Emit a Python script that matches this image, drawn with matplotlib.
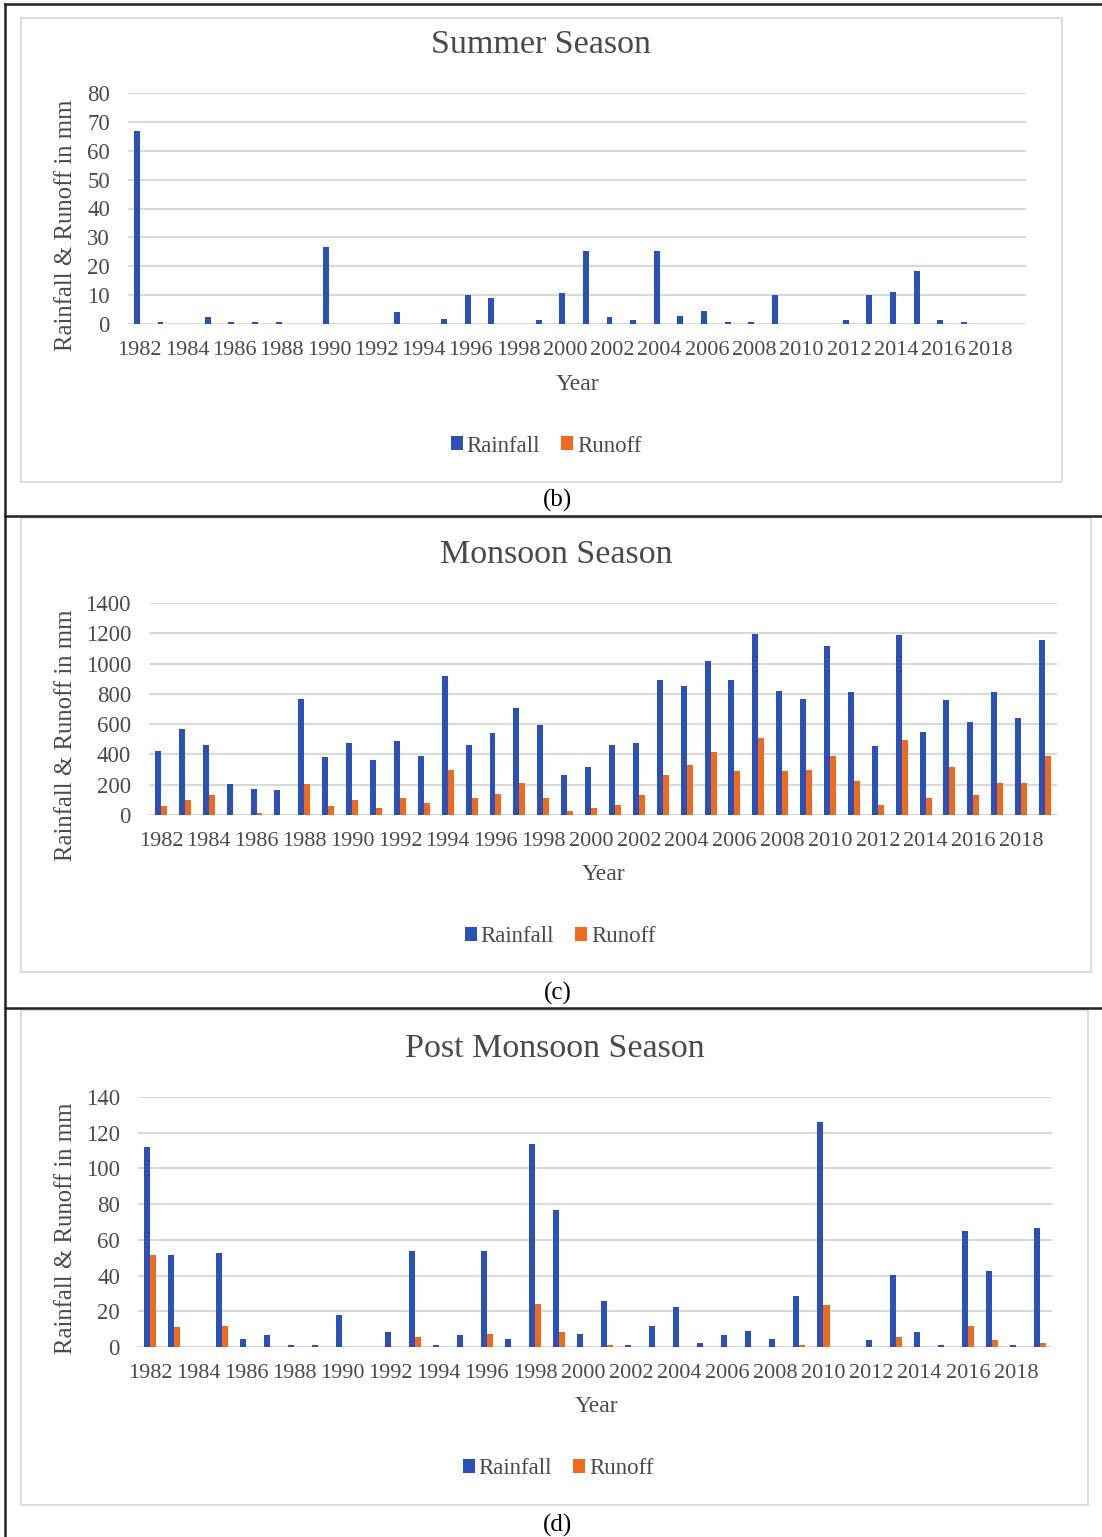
import matplotlib
matplotlib.use('Agg')
import matplotlib.pyplot as plt
from matplotlib.lines import Line2D
from matplotlib.patches import Rectangle
import numpy as np

plt.rcParams['font.family'] = ['Liberation Serif', 'DejaVu Serif']

W, H = 1102, 1537

years = list(range(1982, 2020))
year_labels = [str(y) if y % 2 == 0 else '' for y in years]

summer_rain = [67.0, 0.6, 0, 2.3, 0.6, 0.6, 0.6, 0, 26.6, 0, 0, 4.0, 0, 1.7, 9.9, 8.9, 0, 1.3, 10.6,
               25.4, 2.3, 1.3, 25.4, 2.9, 4.6, 0.6, 0.6, 9.9, 0, 0, 1.3, 9.9, 11.2, 18.3, 1.3, 0.6, 0, 0]
summer_runoff = [0] * 38

monsoon_rain = [423, 570, 465, 203, 172, 163, 768, 383, 476, 361, 487, 392, 916, 465, 539, 707, 592, 266, 319,
                465, 476, 894, 852, 1019, 894, 1198, 821, 768, 1114, 810, 456, 1187, 548, 757, 612, 810, 643, 1156]
monsoon_runoff = [57, 99, 130, 0, 15, 0, 203, 57, 99, 46, 110, 77, 297, 110, 141, 214, 110, 26, 46,
                  66, 130, 266, 328, 414, 288, 509, 288, 297, 392, 225, 66, 495, 110, 319, 130, 214, 214, 392]

post_rain = [112, 51.7, 0, 52.6, 4.7, 6.5, 1.1, 1.1, 17.9, 0, 8.2, 53.6, 1.1, 6.5, 53.6, 4.7, 113.7, 76.5, 7.3,
             25.9, 1.1, 11.8, 22.4, 2.1, 6.5, 9.1, 4.7, 28.7, 126.2, 0, 3.7, 40.1, 8.2, 1.1, 65, 42.7, 1.1, 66.6]
post_runoff = [51.7, 11, 0, 11.8, 0, 0, 0, 0, 0, 0, 0, 5.6, 0, 0, 7.3, 0, 24.3, 8.2, 0,
               1.1, 0, 0, 0, 0, 0, 0, 0, 1.1, 23.3, 0, 0, 5.6, 0, 0, 11.8, 3.7, 0, 2.1]

BLUE = '#2B51B8'
ORANGE = '#EE6A1E'
GRID = '#D9D9D9'
TXT = '#4A4A4A'


def fx(x):
    return x / W


def fy(y):
    return 1 - y / H


def plot_panel(fig, box, ax_px, rain, runoff, ymax, ystep, title, title_xy, year_xy, leg_xy, ylab_y, sub, sub_y):
    # light grey chart frame
    x0, y0, x1, y1 = box
    fig.patches.append(Rectangle((fx(x0), fy(y1)), fx(x1 - x0), (y1 - y0) / H, transform=fig.transFigure,
                                 fill=False, edgecolor=GRID, linewidth=1.3))

    left, top, right, bottom = ax_px
    ax = fig.add_axes([fx(left), fy(bottom), fx(right - left), (bottom - top) / H])
    idx = np.arange(len(years))
    w = 0.25
    ax.bar(idx - w / 2, rain, w, color=BLUE, label='Rainfall', zorder=3)
    ax.bar(idx + w / 2, runoff, w, color=ORANGE, label='Runoff', zorder=3)

    ax.set_xlim(-0.5, len(years) - 0.5)
    ax.set_ylim(0, ymax)
    ax.set_yticks(np.arange(0, ymax + 1, ystep))
    ax.set_xticks(idx[::2])
    ax.set_xticklabels(year_labels[::2])
    ax.grid(axis='y', color=GRID, linewidth=1.5, zorder=0)
    for s in ax.spines.values():
        s.set_visible(False)
    ax.tick_params(axis='both', length=0, colors=TXT)
    ax.tick_params(axis='y', pad=13, labelsize=16.5)
    ax.tick_params(axis='x', pad=12.5, labelsize=16)

    fig.text(fx(title_xy[0]), fy(title_xy[1]), title, ha='center', va='center', fontsize=24.5, color=TXT)
    fig.text(fx(year_xy[0]), fy(year_xy[1]), 'Year', ha='center', va='center', fontsize=17, color=TXT)
    fig.text(fx(66), fy(ylab_y), 'Rainfall & Runoff in mm', ha='center', va='center', rotation=90,
             fontsize=17.8, color=TXT)
    ax.legend(loc='center', bbox_to_anchor=(fx(leg_xy[0]), fy(leg_xy[1])), bbox_transform=fig.transFigure,
              ncol=2, frameon=False, fontsize=16.5, handlelength=0.55, handleheight=0.55,
              handletextpad=0.15, columnspacing=0.9, labelcolor=TXT)
    fig.text(fx(558), fy(sub_y), sub, ha='center', va='center', fontsize=18, color='black')
    return ax


fig = plt.figure(figsize=(W / 100, H / 100), dpi=100)

plot_panel(fig, (21, 18, 1062, 482), (128, 93, 1026, 324), summer_rain, summer_runoff, 80, 10,
           'Summer Season', (541, 45), (577, 384), (546, 446), 225, '(b)', 500)
plot_panel(fig, (21, 518, 1091, 972), (149, 603, 1057, 815), monsoon_rain, monsoon_runoff, 1400, 200,
           'Monsoon Season', (556, 555), (603, 875), (560, 937), 735, '(c)', 993)
plot_panel(fig, (21, 1010, 1088, 1505), (138, 1097, 1052, 1347), post_rain, post_runoff, 140, 20,
           'Post Monsoon Season', (555, 1049), (596, 1407), (558, 1469), 1228, '(d)', 1525)

# black outer frame and dividers
for xs, ys in [([5, 5], [4, H]), ([5, W], [4, 4]), ([5, W], [516, 516]), ([5, W], [1008, 1008])]:
    fig.lines.append(Line2D([fx(v) for v in xs], [fy(v) for v in ys], transform=fig.transFigure,
                            color='#222222', linewidth=1.8))

fig.savefig('out.png', dpi=100)
